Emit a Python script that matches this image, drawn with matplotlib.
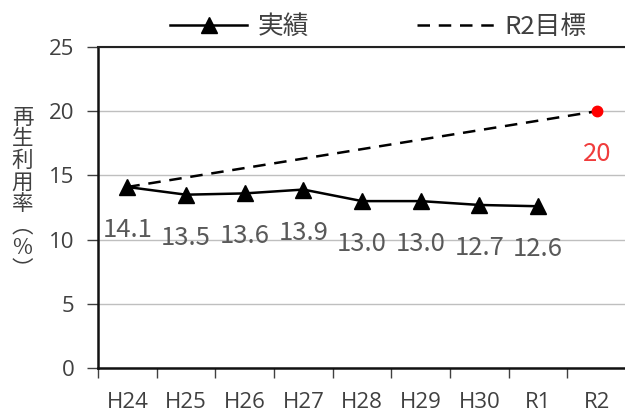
import matplotlib.pyplot as plt
import numpy as np

plt.rcParams['font.family'] = ['Noto Sans CJK JP', 'DejaVu Sans']

# 再生利用率の推移
years = ["H24", "H25", "H26", "H27", "H28", "H29", "H30", "R1", "R2"]
actual = [14.1, 13.5, 13.6, 13.9, 13.0, 13.0, 12.7, 12.6]
target_start = 14.1
target_value = 20

x = np.arange(len(years))

fig = plt.figure(figsize=(6.25, 4.12), dpi=100)
ax = fig.add_axes([0.1568, 0.1068, 0.845, 0.779])

# 目標ライン (H24 -> R2)
ax.plot([x[0], x[-1]], [target_start, target_value], color='black', linestyle=(0, (5, 3.5)),
        linewidth=1.8, label='R2目標', zorder=3)
# 実績
ax.plot(x[:len(actual)], actual, color='black', marker='^', markersize=11, linewidth=1.8,
        label='実績', zorder=4)
ax.plot(x[-1], target_value, 'o', color='#FF0000', markersize=7.5, zorder=5)

for xi, v in zip(x, actual):
    ax.annotate(f"{v:.1f}", (xi, v), xytext=(0, -31), textcoords='offset points',
                ha='center', va='center', fontsize=18.5, color='#595959')
ax.annotate(f"{target_value}", (x[-1], target_value), xytext=(0, -31), textcoords='offset points',
            ha='center', va='center', fontsize=18.5, color='#F03C3C')

ax.set_xlim(-0.5, len(years) - 0.5)
ax.set_ylim(0, 25)
ax.set_yticks(np.arange(0, 26, 5))
ax.set_xticks(x)
ax.set_xticklabels(years)
ax.set_xticks(np.arange(-0.5, len(years), 1), minor=True)
ax.tick_params(axis='x', which='major', length=0, pad=17, labelsize=16, labelcolor='#404040')
ax.tick_params(axis='x', which='minor', length=7, width=1, color='#404040')
ax.tick_params(axis='y', length=8, width=1, color='#404040', pad=9, labelsize=16, labelcolor='#404040')
for lbl in ax.get_xticklabels() + ax.get_yticklabels():
    lbl.set_family('Open Sans')

ax.grid(axis='y', color='#BFBFBF', linewidth=1, zorder=0)
ax.spines['right'].set_visible(False)
ax.spines['top'].set_color('#222222')
ax.spines['top'].set_linewidth(1.5)
for s in ['left', 'bottom']:
    ax.spines[s].set_color('#111111')
    ax.spines[s].set_linewidth(1.8)

handles, labels = ax.get_legend_handles_labels()
fig.legend(handles[::-1], labels[::-1], loc='center', bbox_to_anchor=(0.605, 0.935), ncol=2,
           frameon=False, fontsize=18.5, handlelength=3.0, columnspacing=4.2, handletextpad=0.4,
           labelcolor='#404040')

fig.text(0.036, 0.53, "再\n生\n利\n用\n率\n︵\n%\n︶", ha='center', va='center', fontsize=15.5,
         color='#404040', linespacing=0.98)

fig.savefig('out.png', dpi=100)
